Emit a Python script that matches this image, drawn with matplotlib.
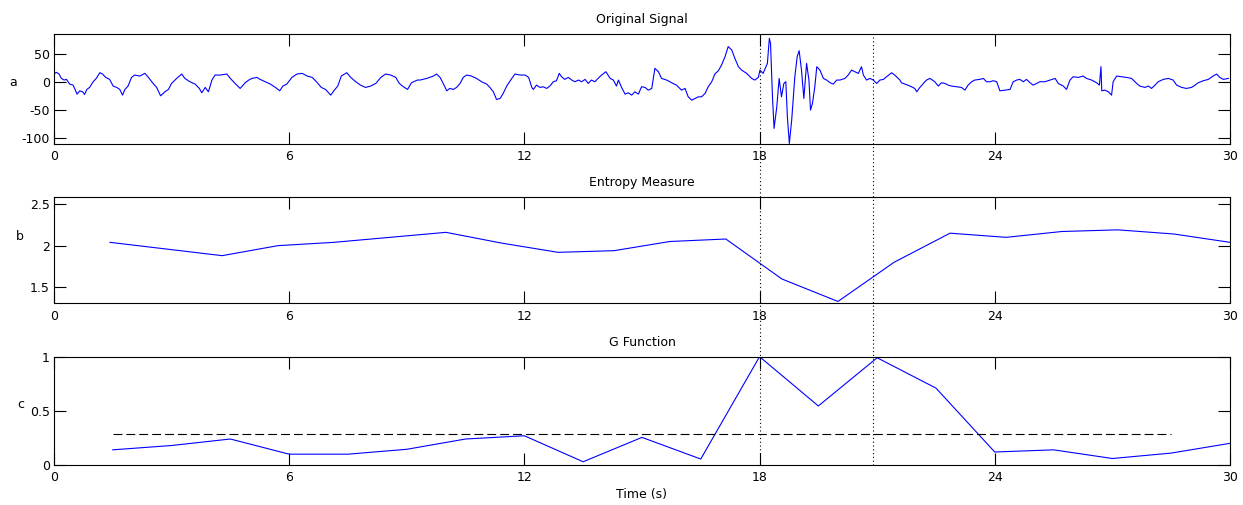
import matplotlib
matplotlib.use("Agg")
import matplotlib.pyplot as plt
from matplotlib.lines import Line2D
import matplotlib.transforms as mtransforms

plt.rcParams['font.family'] = ['DejaVu Sans']
plt.rcParams['axes.unicode_minus'] = False

# ---------------- data ----------------
sig_t = [0.02, 0.06, 0.13, 0.19, 0.26, 0.32, 0.40, 0.49, 0.59, 0.66, 0.73, 0.78, 0.84, 0.91, 1.00, 1.08, 1.17, 1.24, 1.32, 1.42,
         1.51, 1.60, 1.68, 1.75, 1.81, 1.89, 1.98, 2.06, 2.19, 2.32, 2.41, 2.53, 2.62, 2.72, 2.83, 2.92, 3.00, 3.13, 3.26, 3.34,
         3.47, 3.60, 3.71, 3.77, 3.86, 3.94, 4.03, 4.11, 4.24, 4.41, 4.50, 4.62, 4.75, 4.88, 4.97, 5.05, 5.18, 5.26, 5.39, 5.52,
         5.65, 5.76, 5.84, 5.94, 6.07, 6.20, 6.33, 6.46, 6.59, 6.72, 6.82, 6.93, 7.06, 7.14, 7.24, 7.33, 7.47, 7.57, 7.70, 7.82,
         7.95, 8.08, 8.21, 8.34, 8.46, 8.59, 8.72, 8.81, 8.89, 9.02, 9.12, 9.27,
         9.34, 9.51, 9.68, 9.76, 9.85, 9.93, 10.02, 10.10, 10.19, 10.27, 10.36, 10.44, 10.53, 10.65, 10.78, 10.91, 11.04, 11.12,
         11.21, 11.29, 11.38, 11.46, 11.55, 11.68, 11.76, 11.89, 12.02, 12.11, 12.19, 12.23, 12.31, 12.40, 12.48, 12.57, 12.65,
         12.74, 12.82, 12.89, 12.95, 13.03, 13.12, 13.21, 13.29, 13.38, 13.46, 13.55, 13.63, 13.71, 13.80, 13.88, 13.97, 14.08,
         14.19, 14.27, 14.35, 14.40, 14.48, 14.57, 14.65, 14.74, 14.82, 14.91, 14.99, 15.08, 15.16, 15.25, 15.33, 15.42, 15.50,
         15.63, 15.76, 15.88, 16.01, 16.10, 16.18, 16.27, 16.35, 16.44, 16.52, 16.61, 16.69, 16.78, 16.86, 16.95, 17.03, 17.12,
         17.20, 17.29, 17.37, 17.46, 17.54, 17.67, 17.80, 17.88, 17.97,
         18.01, 18.09, 18.20, 18.25, 18.28, 18.33, 18.37, 18.44, 18.50, 18.56, 18.62, 18.67, 18.71, 18.76, 18.82, 18.90, 18.96,
         19.01, 19.07, 19.13, 19.20, 19.26, 19.30, 19.35, 19.41, 19.46, 19.54, 19.63, 19.71, 19.80, 19.88, 19.97, 20.05, 20.18,
         20.26, 20.35, 20.43, 20.52, 20.60, 20.65, 20.73, 20.82, 20.90, 20.99, 21.07, 21.16, 21.24, 21.37, 21.45, 21.58,
         21.62, 21.71, 21.84, 21.96, 22.01, 22.09, 22.18, 22.26, 22.35, 22.47, 22.56, 22.64, 22.73, 22.81, 22.90, 23.03, 23.15,
         23.24, 23.32, 23.41, 23.49, 23.62, 23.71, 23.79, 23.88, 23.96, 24.05, 24.13, 24.26, 24.39, 24.47, 24.56, 24.64, 24.73,
         24.81, 24.90, 24.98, 25.07, 25.15, 25.28, 25.41, 25.54, 25.62, 25.75, 25.83, 25.92, 26.00, 26.13, 26.26, 26.34, 26.47,
         26.60, 26.67, 26.71, 26.73, 26.81, 26.90, 26.98, 27.02, 27.11, 27.24, 27.36, 27.49, 27.62, 27.70, 27.83, 27.92, 28.00,
         28.09, 28.17, 28.30, 28.43, 28.55, 28.64, 28.77, 28.89, 29.02, 29.11, 29.19, 29.32, 29.45, 29.57, 29.66, 29.74, 29.83,
         29.96]
sig_v = [15.5, 17.3, 14.3, 6.5, 3.6, 4.8, -3.6, -5.4, -21.4, -15.5, -17.3, -22.0, -13.1, -9.5, 0.6, 6.5, 16.7, 14.3, 8.3, 4.8,
         -7.1, -9.5, -13.1, -23.2, -13.1, -7.1, 8.3, 12.5, 10.7, 15.5, 8.3, -2.4, -9.5, -24.4, -17.3, -13.1, -2.4, 6.5, 14.3, 6.5,
         0.6, -3.6, -11.3, -19.0, -9.5, -17.3, 3.6, 12.5, 12.5, 14.3, 6.5, -2.4, -11.3, -1.2, 3.6, 6.5, 8.3, 4.8, 0.6, -3.6,
         -9.5, -15.5, -7.1, -3.6, 8.3, 14.3, 15.5, 10.7, 8.3, -1.2, -9.5, -13.1, -23.2, -15.5, -7.1, 10.7, 16.7, 8.3, 0.6, -5.4,
         -9.5, -7.1, -2.4, 8.3, 14.3, 12.5, 8.3, -2.4, -7.1, -13.1, -1.2, 3.6,
         3.6, 6.5, 10.7, 14.3, 8.3, -2.4, -15.5, -11.3, -13.1, -9.5, -2.4, 8.3, 12.5, 10.7, 6.5, 0.6, -3.6, -9.5,
         -17.3, -30.9, -29.2, -20.2, -7.1, 6.5, 14.3, 12.5, 12.5, 8.3, -9.5, -13.1, -5.4, -9.5, -8.3, -11.3, -7.1,
         0.6, 2.4, 15.5, 9.5, 4.8, 8.3, 3.6, 0.6, 3.6, 0.6, 4.8, -2.4, 3.6, 0.6, 6.5, 12.5, 18.4,
         6.5, 3.6, -7.1, 3.6, -9.5, -21.4, -19.0, -23.2, -17.3, -21.4, -8.3, -9.5, -14.3, -11.3, 24.4, 18.4, 6.5,
         3.6, -1.2, -5.4, -14.3, -11.3, -26.2, -32.1, -29.2, -26.2, -26.2, -20.2, -8.3, 0.6, 14.3, 20.2, 30.3, 45.2,
         63.1, 57.1, 42.2, 27.4, 21.4, 15.5, 6.5, 3.6, 8.3,
         21.3, 15.4, 33.2, 77.7, 68.8, -26.1, -82.4, -43.9, 6.5, -26.1, -2.4, 0.6, -61.7, -109.1, -67.6, 9.5, 45.1,
         55.8, 21.3, -29.1, 33.2, 3.6, -49.8, -38.0, -8.3, 27.3, 21.3, 6.5, 3.6, -1.2, -3.6, 3.6, 3.6, 6.5,
         12.4, 21.3, 18.4, 15.4, 27.3, 12.4, 3.6, 6.5, 3.6, -2.4, 3.6, 4.7, 9.5, 16.6, 12.4, 3.6,
         -1.2, -3.6, -7.1, -11.3, -17.3, -9.5, -2.4, 3.6, 6.5, 0.6, -7.1, -1.2, -2.4, -5.4, -7.1, -8.3, -9.5,
         -14.3, -5.4, 0.6, 3.6, 4.8, 6.5, 0.6, 0.6, 2.4, 0.6, -15.5, -14.3, -13.1, 0.6, 3.6, 4.8, 0.6,
         4.8, -1.2, -5.4, -2.4, 0.6, 0.6, 3.6, 6.5, -2.4, -7.1, -13.1, 3.6, 9.5, 8.3, 10.7, 6.5, 3.6,
         -1.2, -5.4, 27.4, -15.5, -14.3, -17.3, -23.2, 0.6, 10.7, 9.5, 8.3, 6.5, -2.4, -7.1, -9.5, -7.1, -11.3,
         -5.4, 0.6, 4.8, 6.5, 3.6, -5.4, -9.5, -11.3, -9.5, -5.4, -1.2, 2.4, 4.8, 10.7, 14.3, 8.3, 4.8,
         6.5]

ent_t = [1.43, 2.86, 4.29, 5.71, 7.14, 8.57, 10.00, 11.43, 12.86, 14.29, 15.71,
         17.14, 18.57, 20.00, 21.43, 22.86, 24.29, 25.71, 27.14, 28.57, 30.00]
ent_v = [2.04, 1.96, 1.88, 2.00, 2.04, 2.10, 2.16, 2.03, 1.92, 1.94, 2.05,
         2.08, 1.60, 1.33, 1.80, 2.15, 2.10, 2.17, 2.19, 2.14, 2.04]

g_t = [1.5, 3.0, 4.5, 6.0, 7.5, 9.0, 10.5, 12.0, 13.5, 15.0, 16.5, 18.0, 19.5, 21.0,
       22.5, 24.0, 25.5, 27.0, 28.5, 30.0]
g_v = [0.14, 0.18, 0.24, 0.10, 0.10, 0.145, 0.24, 0.27, 0.03, 0.255, 0.055, 1.0, 0.545, 0.99,
       0.71, 0.12, 0.14, 0.06, 0.11, 0.20]

thr_t = [1.5, 28.5]
thr_v = [0.286, 0.286]

event_t = [18.0, 20.9]

x_ticks = [0, 6, 12, 18, 24, 30]
x_ticklabels = ['0', '6', '12', '18', '24', '30']
a_ticks = [-100, -50, 0, 50]
a_ticklabels = ['-100', '-50', '0', '50']
b_ticks = [1.5, 2, 2.5]
b_ticklabels = ['1.5', '2', '2.5']
c_ticks = [0, 0.5, 1]
c_ticklabels = ['0', '0.5', '1']

titles = ['Original Signal', 'Entropy Measure', 'G Function']
ylabels = ['a', 'b', 'c']

# ---------------- figure ----------------
fig = plt.figure(figsize=(12.43, 5.05), dpi=100)
fs = 9

ax1 = fig.add_axes([0.0434, 0.7149, 0.9461, 0.2184])
ax2 = fig.add_axes([0.0434, 0.3994, 0.9461, 0.2111])
ax3 = fig.add_axes([0.0434, 0.0792, 0.9461, 0.2145])

ax1.plot(sig_t, sig_v, color='#0000ff', lw=0.8)
ax2.plot(ent_t, ent_v, color='#0000ff', lw=0.8)
ax3.plot(g_t, g_v, color='#0000ff', lw=0.8)
ax3.plot(thr_t, thr_v, color='black', lw=0.8, linestyle=(0, (8, 3.6)))

ax1.set_ylim(-110, 86)
ax2.set_ylim(1.308, 2.588)
ax3.set_ylim(0, 1)

for ax, yt, ytl, title in [(ax1, a_ticks, a_ticklabels, titles[0]),
                           (ax2, b_ticks, b_ticklabels, titles[1]),
                           (ax3, c_ticks, c_ticklabels, titles[2])]:
    ax.set_xlim(0, 30)
    ax.set_xticks(x_ticks)
    ax.set_xticklabels(x_ticklabels)
    ax.set_yticks(yt)
    ax.set_yticklabels(ytl)
    ax.tick_params(direction='in', length=8.6, width=0.8, top=True, right=True,
                   labelsize=fs, colors='black')
    ax.tick_params(axis='x', pad=4.5)
    ax.tick_params(axis='y', pad=3)
    for s in ax.spines.values():
        s.set_linewidth(0.8)
        s.set_color('black')
    ax.set_title(title, fontsize=fs, pad=8)

ax3.set_xlabel('Time (s)', fontsize=fs, labelpad=3)

fig.text(13 / 1243, 1 - 82 / 505, ylabels[0], fontsize=fs, ha='center', va='center')
fig.text(20 / 1243, 1 - 236 / 505, ylabels[1], fontsize=fs, ha='center', va='center')
fig.text(21 / 1243, 1 - 405 / 505, ylabels[2], fontsize=fs, ha='center', va='center')

# vertical event markers spanning all panels
trans = mtransforms.blended_transform_factory(ax1.transData, fig.transFigure)
y_top = 0.7149 + 0.2184
y_bot = 0.0792
for et in event_t:
    fig.add_artist(Line2D([et, et], [y_bot, y_top], transform=trans, color='black',
                          lw=0.8, linestyle=(0, (1, 2.4))))

fig.savefig('out.png', dpi=100, facecolor='white')
